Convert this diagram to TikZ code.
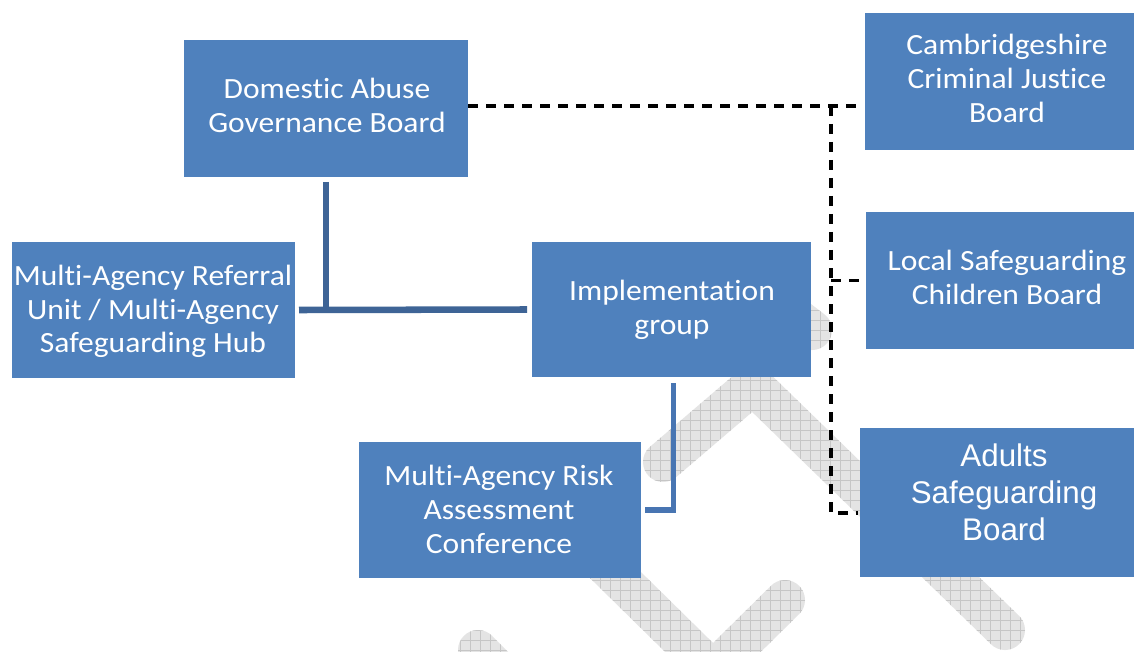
\documentclass[tikz,border=0pt]{standalone}
\usepackage{fontspec}
\setmainfont{Carlito}[FakeStretch=1.075,Ligatures=NoCommon]
\newfontfamily\arialf{Liberation Sans}
\definecolor{boxblue}{RGB}{79,129,189}
\definecolor{connA}{RGB}{62,100,150}
\definecolor{connB}{RGB}{72,117,178}
\definecolor{wmbase}{RGB}{228,228,228}
\definecolor{wmline}{RGB}{198,198,198}
\newcommand\ml[1]{\vtop{\halign{\hfil##\hfil\cr#1\crcr}}}
\begin{document}
\begin{tikzpicture}[x=0.75pt,y=-0.75pt,
  box/.style={rectangle,fill=boxblue,draw=none,inner sep=0pt,outer sep=0pt},
  txt/.style={anchor=base,inner sep=0pt,text=white,font=\fontsize{22pt}{25.5pt}\selectfont},
  atxt/.style={anchor=base,inner sep=0pt,text=white,font=\arialf\fontsize{23.5pt}{27.5pt}\selectfont},
  connA/.style={draw=connA,line width=4.9pt},
  connB/.style={draw=connB,line width=4.2pt,line join=miter},
  dsh/.style={draw=black,line width=2.4pt,dash pattern=on 7.5pt off 6pt}]
\clip (0,0) rectangle (1134,652);
\fill[white] (0,0) rectangle (1134,652);
% watermark (hatched band shapes)
\begin{scope}
\clip (650,446.8) -- (740,369.8) -- (766,400.2) -- (676,477.2) -- cycle
      (766.9,370.7) -- (1018.9,615.7) -- (991.1,644.3) -- (739.1,399.3) -- cycle
      (604.0,535.7) -- (727.0,656.7) -- (699.0,685.3) -- (576.0,564.3) -- cycle
      (699.0,656.8) -- (771.0,585.8) -- (799.0,614.2) -- (727.0,685.2) -- cycle
      (772.2,274.2) -- (824.2,314.2) -- (799.8,345.9) -- (747.8,305.9) -- cycle
      (492.1,635.9) -- (554.1,697.9) -- (525.9,726.1) -- (463.9,664.1) -- cycle
      (663,462) circle[radius=20] (753,385) circle[radius=20] (1005,630) circle[radius=20]
      (590,550) circle[radius=20] (713,671) circle[radius=20] (785,600) circle[radius=20]
      (760,290) circle[radius=20] (812,330) circle[radius=20]
      (478,650) circle[radius=20] (540,712) circle[radius=20];
\fill[wmbase] (0,0) rectangle (1134,652);
\draw[wmline,line width=0.75pt,step=7.5pt] (0,0) grid (1134,652);
\end{scope}
% boxes
\node[box,minimum width=213pt,minimum height=102.75pt] (dagb) at (326,108.5) {};
\node[box,minimum width=213pt,minimum height=102.75pt] (ccjb) at (1007,81.5) {};
\node[box,minimum width=211.5pt,minimum height=102.75pt] (lscb) at (1007,280.5) {};
\node[box,minimum width=212.25pt,minimum height=102pt] (maru) at (153.5,310) {};
\node[box,minimum width=209.25pt,minimum height=101.25pt] (impl) at (671.5,309.5) {};
\node[box,minimum width=211.5pt,minimum height=102pt] (marac) at (500,510) {};
\node[box,minimum width=216pt,minimum height=112.1pt] (adults) at (1004,502.75) {};
% texts
\node[txt] (dagbt) at (327,99) {\ml{Domestic Abuse\cr Governance Board}};
\node[txt] (ccjbt) at (1007,55) {\ml{Cambridgeshire\cr Criminal Justice\cr Board}};
\node[txt] (lscbt) at (1007,270) {\ml{Local Safeguarding\cr Children Board}};
\node[txt] (marut) at (153,285) {\ml{Multi-Agency Referral\cr Unit / Multi-Agency\cr Safeguarding Hub}};
\node[txt] (implt) at (672,300) {\ml{Implementation\cr group}};
\node[txt] (maract) at (499,485) {\ml{Multi-Agency Risk\cr Assessment\cr Conference}};
\node[atxt] (adultst) at (1004,466.7) {\ml{Adults\cr Safeguarding\cr Board}};
% solid connectors
\draw[connA] ([xshift=3pt]maru.east) -- ([xshift=-3.75pt]impl.west);
\draw[connA] ([yshift=-3.75pt]dagb.south) -- (dagb.south |- maru.east);
\draw[connB] ([xshift=3pt]marac.east) -| ([xshift=1.5pt,yshift=-4.5pt]impl.south);
% dashed connectors
\coordinate (j1) at (831,106);
\coordinate (j3) at (831,513);
\draw[dsh] (dagb.east |- j1) -- (j1) -- ([xshift=-4.5pt]ccjb.west |- j1);
\draw[dsh] (j1) -- (j3) -- ([xshift=-1.5pt]adults.west |- j3);
\draw[dsh] (j1 |- lscb.west) -- ([xshift=-0.75pt]lscb.west);
\end{tikzpicture}
\end{document}
